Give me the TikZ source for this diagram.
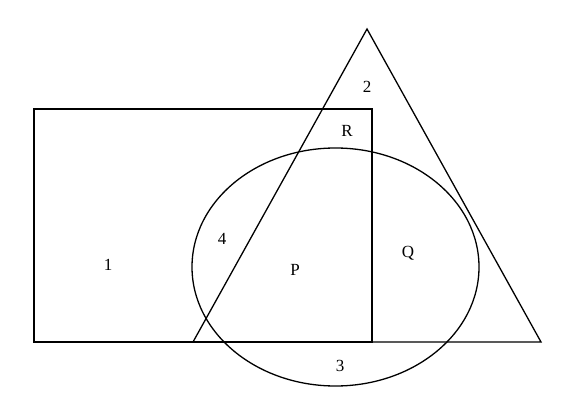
\documentclass[tikz,border=0pt]{standalone}
\usepackage{fontspec}
\setmainfont{Liberation Serif}
\begin{document}
\begin{tikzpicture}[x=1pt,y=-1pt,
  shape line/.style={line width=1.3pt, black},
  lbl/.style={fill=white, inner sep=0pt, minimum width=33pt, minimum height=33pt, font=\fontsize{17pt}{20pt}\selectfont}]
\useasboundingbox (0,0) rectangle (575,403);
\draw[shape line] (34,109) rectangle (372,342);
\draw[shape line] (367,29) -- (193,342) -- (541,342) -- cycle;
\draw[shape line] (335.5,267) ellipse [x radius=143.5, y radius=119];
\node[lbl] (n2) at (367,87) {2};
\node[lbl] (nR) at (347,131) {R};
\node[lbl] (n4) at (222,239) {4};
\node[lbl] (n1) at (108,265) {1};
\node[lbl] (nP) at (295,270) {P};
\node[lbl] (nQ) at (408,253) {Q};
\node[lbl] (n3) at (340,366) {3};
\end{tikzpicture}
\end{document}
